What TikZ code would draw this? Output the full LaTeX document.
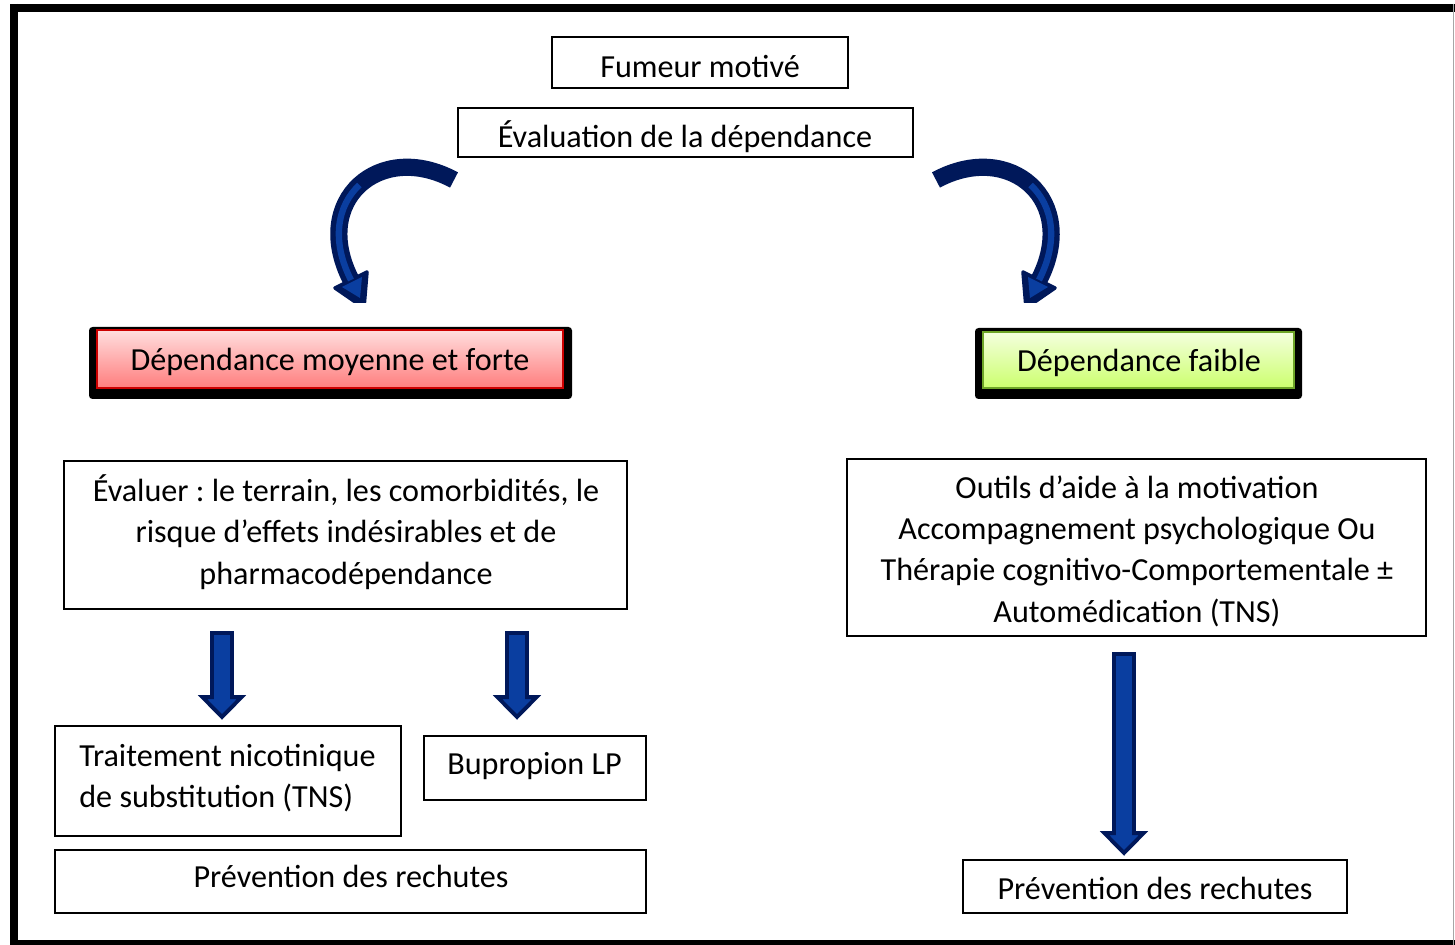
\documentclass[tikz,border=0pt]{standalone}
\usepackage{fontspec}
\setmainfont{Carlito}
\usetikzlibrary{fit,calc}
\definecolor{navyA}{RGB}{0,24,90}
\definecolor{blueA}{RGB}{10,62,160}
\definecolor{redTop}{RGB}{255,222,222}
\definecolor{redBot}{RGB}{255,125,125}
\definecolor{redLine}{RGB}{205,0,0}
\definecolor{grnTop}{RGB}{244,255,222}
\definecolor{grnBot}{RGB}{204,255,110}
\definecolor{grnLine}{RGB}{110,165,40}
\newcommand{\blockdown}[2]{%
  \draw[blockarrow] let \p1=(#1), \p2=(#2) in
    (\x1-5.67pt,\y1) -- (\x1+5.67pt,\y1) -- (\x1+5.67pt,\y2+11.3pt)
    -- (\x1+11.1pt,\y2+11.3pt) -- (\x1,\y2) -- (\x1-11.1pt,\y2+11.3pt)
    -- (\x1-5.67pt,\y2+11.3pt) -- cycle;}
\frenchspacing
\begin{document}
\begin{tikzpicture}[x=0.02cm,y=-0.02cm,
  box/.style={draw=black, line width=1.5pt, inner sep=0pt},
  txt/.style={font=\fontsize{18.3}{23.5}\selectfont, inner sep=0pt},
  shadowbox/.style={fill=black, rounded corners=2pt, inner sep=0pt},
  blockarrow/.style={fill=blueA, draw=navyA, line width=2.2pt, line join=miter},
  curveout/.style={draw=navyA, line width=9.8pt},
  curvein/.style={draw=blueA, line width=3.6pt},
  headout/.style={fill=navyA, draw=navyA, line width=2pt, line join=round},
  headin/.style={fill=blueA}]
\useasboundingbox (0,0) rectangle (1455,945);
\fill[white] (0,0) rectangle (1455,945);
% outer frame
\draw[line width=4.54pt] (10,8) -- (1455,8);
\draw[line width=4.54pt] (14,4) -- (14,945);
\draw[line width=4.54pt] (10,944) -- (1455,944);
\draw[line width=0.8pt, gray!70] (1453.5,4) -- (1453.5,945);

% top boxes
\node[box, fit={(552,37) (848,88)}] (fum) {};
\node[txt, anchor=base] (tfum) at (700,78) {Fumeur motivé};
\node[box, fit={(458,108) (913,157)}] (eval) {};
\node[txt, anchor=base] (teval) at (685,148) {Évaluation de la dépendance};

% coloured boxes
\node[shadowbox, fit={(89,327) (572,399)}] (shR) {};
\node[inner sep=0pt, top color=redTop, bottom color=redBot, draw=redLine, line width=1pt, fit={(97,330) (563,388)}] (dmf) {};
\node[txt, anchor=base] (tdmf) at (330,371) {Dépendance moyenne et forte};
\node[shadowbox, fit={(975,328) (1302,399)}] (shG) {};
\node[inner sep=0pt, top color=grnTop, bottom color=grnBot, draw=grnLine, line width=1pt, fit={(983,332) (1294,388)}] (df) {};
\node[txt, anchor=base] (tdf) at (1139,372) {Dépendance faible};

% left column
\node[box, fit={(64,461) (627,609)}] (evr) {};
\node[txt, align=center] (tevr) at (346,532) {Évaluer : le terrain, les comorbidités, le\\risque d’effets indésirables et de\\pharmacodépendance};
\node[box, fit={(55,726) (401,836)}] (tns) {};
\node[txt, align=left, anchor=west] (ttns) at (79,778) {Traitement nicotinique\\de substitution (TNS)};
\node[box, fit={(424,736) (646,800)}] (bup) {};
\node[txt, anchor=base west] (tbup) at (447,775) {Bupropion LP};
\node[box, fit={(55,850) (646,913)}] (prl) {};
\node[txt, anchor=base] (tprl) at (351,888) {Prévention des rechutes};

% right column
\node[box, fit={(847,459) (1426,636)}] (out) {};
\node[txt, align=center] (tout) at (1137,551) {Outils d’aide à la motivation\\Accompagnement psychologique Ou\\Thérapie cognitivo-Comportementale ±\\Automédication (TNS)};
\node[box, fit={(963,860) (1347,913)}] (prr) {};
\node[txt, anchor=base] (tprr) at (1155,900) {Prévention des rechutes};

% straight block arrows
\coordinate (a1s) at (222,633); \coordinate (a1e) at (222,717);
\coordinate (a2s) at (517,633); \coordinate (a2e) at (517,717);
\coordinate (a3s) at (1124,654); \coordinate (a3e) at (1124,853);
\blockdown{a1s}{a1e}
\blockdown{a2s}{a2e}
\blockdown{a3s}{a3e}

% curved arrows
\coordinate (cl1) at (454,180); \coordinate (clm) at (359.4,185); \coordinate (cl2) at (351,280);
\coordinate (cr1) at (936,180); \coordinate (crm) at (1030.6,185); \coordinate (cr2) at (1039,280);
\begin{scope}
\clip (290,140) rectangle (1100,303);
\draw[curveout] (cl1) .. controls (380,140) and (310,200) .. (cl2);
\fill[headout] (335,288) -- (367,272) -- (364,308) -- cycle;
\draw[curvein] (clm) .. controls (337.75,205) and (330.5,240) .. (cl2);
\fill[headin] (342,287) -- (362,277) -- (360,298) -- cycle;
\draw[curveout] (cr1) .. controls (1010,140) and (1080,200) .. (cr2);
\fill[headout] (1055,288) -- (1023,272) -- (1026,308) -- cycle;
\draw[curvein] (crm) .. controls (1052.25,205) and (1059.5,240) .. (cr2);
\fill[headin] (1048,287) -- (1028,277) -- (1030,298) -- cycle;
\end{scope}
\end{tikzpicture}
\end{document}
